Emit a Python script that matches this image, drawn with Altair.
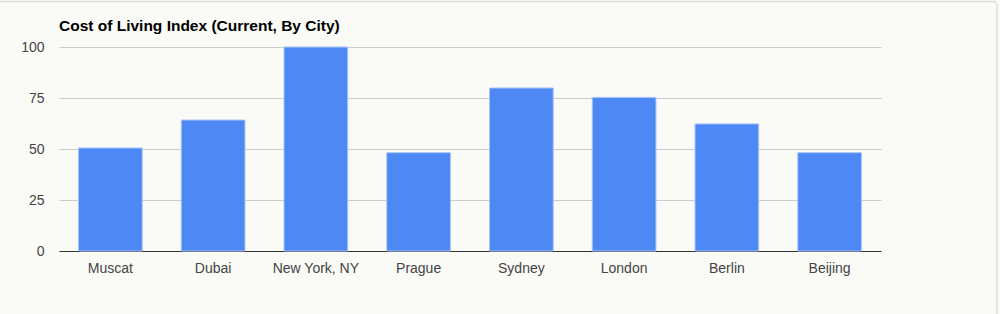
import altair as alt
import pandas as pd

# Cost of living index by city (New York = 100)
cities = ["Muscat", "Dubai", "New York, NY", "Prague", "Sydney", "London", "Berlin", "Beijing"]
index_values = [50.5, 64.2, 100.0, 48.2, 79.9, 75.3, 62.3, 48.2]
y_ticks = [0, 25, 50, 75, 100]
chart_title = "Cost of Living Index (Current, By City)"

df = pd.DataFrame({"city": cities, "index": index_values})

FONT = "Liberation Sans"
CANVAS_W, CANVAS_H = 1000, 314
PLOT_W, PLOT_H = 822, 204
PAD_L, PAD_T = 59, 47

bars = alt.Chart(df).mark_bar(
    color="#4d88f5",
    stroke="#a9c6fa",
    strokeWidth=1,
).encode(
    x=alt.X(
        "city:N",
        sort=cities,
        title=None,
        scale=alt.Scale(paddingInner=0.38, paddingOuter=0.19),
        axis=alt.Axis(
            labelAngle=0,
            ticks=False,
            domain=True,
            domainColor="#333333",
            domainWidth=1,
            labelPadding=10,
            labelFontSize=14,
            labelColor="#444444",
            labelFont=FONT,
            grid=False,
        ),
    ),
    y=alt.Y(
        "index:Q",
        title=None,
        scale=alt.Scale(domain=[0, 100], nice=False),
        axis=alt.Axis(
            values=y_ticks,
            ticks=False,
            domain=False,
            labelPadding=15,
            labelFontSize=14,
            labelColor="#444444",
            labelFont=FONT,
            gridColor="#cccccc",
            gridWidth=1,
        ),
    ),
)

# chart heading, top-left above the plot
heading = alt.Chart(pd.DataFrame({"t": [chart_title]})).mark_text(
    align="left",
    baseline="middle",
    font=FONT,
    fontSize=15.5,
    fontWeight="bold",
    color="#000000",
    clip=False,
).encode(
    text="t:N",
    x=alt.value(0),
    y=alt.value(26 - PAD_T),
)

# light frame around the card
frame = alt.Chart(pd.DataFrame({"k": [0]})).mark_rect(
    fill=None,
    stroke="#dddddd",
    strokeWidth=1.5,
    cornerRadius=4,
    clip=False,
).encode(
    x=alt.value(-80),
    x2=alt.value(997 - PAD_L),
    y=alt.value(1.5 - PAD_T),
    y2=alt.value(330 - PAD_T),
)

chart = alt.layer(frame, bars, heading).properties(
    width=PLOT_W,
    height=PLOT_H,
    autosize=alt.AutoSizeParams(type="none"),
    padding={
        "left": PAD_L,
        "top": PAD_T,
        "right": CANVAS_W - PAD_L - PLOT_W,
        "bottom": CANVAS_H - PAD_T - PLOT_H,
    },
    background="#fafaf7",
).configure_view(
    stroke=None,
)

chart.save("out.html", embed_options={"renderer": "svg", "actions": False})
